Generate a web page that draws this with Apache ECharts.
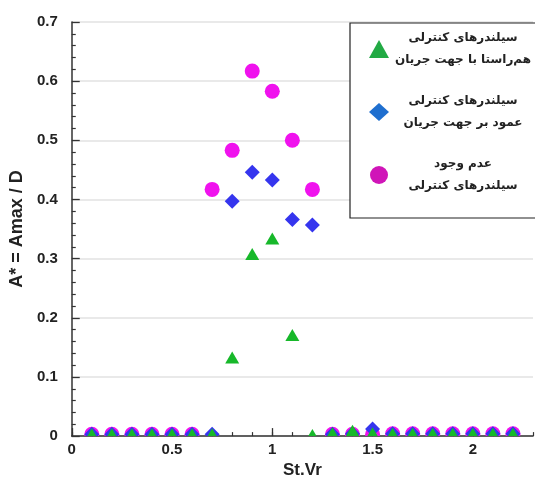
<!DOCTYPE html>
<html>
<head>
<meta charset="utf-8">
<script src="https://cdn.jsdelivr.net/npm/echarts@6/dist/echarts.min.js"></script>
<style>html,body{margin:0;padding:0;background:#fff;}#c{width:535px;height:484px;}</style>
</head>
<body>
<div id="c"></div>
<script>
// ---- data ----
const stVr = [0.1,0.2,0.3,0.4,0.5,0.6,0.7,0.8,0.9,1.0,1.1,1.2,1.3,1.4,1.5,1.6,1.7,1.8,1.9,2.0,2.1,2.2];
const parallelA = [0.003,0.003,0.003,0.003,0.003,0.003,0.003,0.133,0.308,0.334,0.171,0.002,0.005,0.009,0.005,0.004,0.004,0.004,0.004,0.004,0.004,0.004];
const perpendicularA = [0.003,0.003,0.003,0.003,0.003,0.003,0.003,0.397,0.446,0.433,0.366,0.357,0.003,0.004,0.012,0.004,0.004,0.004,0.004,0.004,0.004,0.004];
const noCylinderA = [0.003,0.003,0.003,0.003,0.003,0.003,0.417,0.483,0.617,0.583,0.500,0.417,0.003,0.003,0.003,0.004,0.004,0.004,0.004,0.004,0.004,0.004];
const xTicks = [0, 0.5, 1, 1.5, 2];
const namesParallel = ['سیلندرهای کنترلی', 'هم‌راستا با جهت جریان'];
const namesPerp = ['سیلندرهای کنترلی', 'عمود بر جهت جریان'];
const namesNone = ['عدم وجود', 'سیلندرهای کنترلی'];

const nParallel = namesParallel.join(' ');
const nPerp = namesPerp.join(' ');
const nNone = namesNone.join(' ');
const lines = {};
lines[nParallel] = namesParallel;
lines[nPerp] = namesPerp;
lines[nNone] = namesNone;

function pairs(ys){ return stVr.map((x,i)=>[x, ys[i]]); }

function markerRenderer(kind){
  return function(params, api){
    const p = api.coord([api.value(0), api.value(1)]);
    const color = api.visual('color');
    if (kind === 'circle') {
      return {type:'circle', shape:{cx:p[0], cy:p[1], r:7.5}, style:{fill:color}};
    }
    if (kind === 'diamond') {
      const h = 7.5;
      return {type:'polygon', shape:{points:[[p[0],p[1]-h],[p[0]+h,p[1]],[p[0],p[1]+h],[p[0]-h,p[1]]]}, style:{fill:color}};
    }
    return {type:'polygon', shape:{points:[[p[0],p[1]-6],[p[0]+7,p[1]+6],[p[0]-7,p[1]+6]]}, style:{fill:color}};
  };
}

const chart = echarts.init(document.getElementById('c'), null, {renderer:'canvas'});
const labelFont = {fontFamily:'Liberation Sans, Arial, sans-serif', fontSize:15, fontWeight:'bold', color:'#222'};
chart.setOption({
  animation:false,
  backgroundColor:'#fff',
  grid:{left:70, right:2, top:22, bottom:38, containLabel:false},
  legend:{
    left:350, top:23, orient:'vertical',
    backgroundColor:'#fff', borderColor:'#222', borderWidth:1.2,
    padding:[9, 30, 26, 19],
    itemGap:29, itemWidth:20, itemHeight:18,
    data:[
      {name:nParallel, icon:'triangle', itemStyle:{color:'#22aa44'}},
      {name:nPerp, icon:'diamond', itemStyle:{color:'#1f6fcf'}},
      {name:nNone, icon:'circle', itemStyle:{color:'#d015b8'}}
    ],
    formatter: n => lines[n].map(s => '{a|' + s + '}').join('\n'),
    textStyle:{
      rich:{a:{width:138, align:'center', lineHeight:22, fontSize:12, fontWeight:'bold', fontFamily:'DejaVu Sans', color:'#222'}}
    }
  },
  xAxis:[{
    type:'value', min:0, max:2.3, interval:0.5,
    name:'St.Vr', nameLocation:'middle', nameGap:22,
    nameTextStyle:{fontFamily:'Liberation Sans, Arial, sans-serif', fontSize:17, fontWeight:'bold', color:'#222'},
    axisLine:{show:true, onZero:false, lineStyle:{color:'#333', width:1.5}},
    axisTick:{show:true, inside:true, length:8, customValues:xTicks, lineStyle:{color:'#333', width:1.3}},
    axisLabel:Object.assign({margin:6, customValues:xTicks}, labelFont),
    splitLine:{show:false}
  },{
    type:'value', min:0, max:2.3, interval:0.1, position:'bottom',
    axisLine:{show:false},
    axisTick:{show:true, inside:true, length:4, lineStyle:{color:'#333', width:1.2}},
    axisLabel:{show:false},
    splitLine:{show:false}
  }],
  yAxis:{
    type:'value', min:0, max:0.7, interval:0.1,
    name:'A* = Amax / D', nameLocation:'middle', nameGap:38,
    nameTextStyle:{fontFamily:'Liberation Sans, Arial, sans-serif', fontSize:18, fontWeight:'bold', color:'#222'},
    axisLine:{show:true, lineStyle:{color:'#333', width:1.5}},
    axisTick:{show:true, inside:true, length:8, lineStyle:{color:'#333', width:1.3}},
    minorTick:{show:true, splitNumber:5, length:4, lineStyle:{color:'#333', width:1.2}},
    axisLabel:Object.assign({margin:14}, labelFont),
    splitLine:{show:true, lineStyle:{color:'#e2e2e2', width:1.5}}
  },
  series:[
    {name:nNone, type:'custom', xAxisIndex:0, clip:true, encode:{x:0, y:1},
     renderItem:markerRenderer('circle'), itemStyle:{color:'#f012ee'}, data:pairs(noCylinderA)},
    {name:nPerp, type:'custom', xAxisIndex:0, clip:true, encode:{x:0, y:1},
     renderItem:markerRenderer('diamond'), itemStyle:{color:'#3535ee'}, data:pairs(perpendicularA)},
    {name:nParallel, type:'custom', xAxisIndex:0, clip:true, encode:{x:0, y:1},
     renderItem:markerRenderer('triangle'), itemStyle:{color:'#17b82a'}, data:pairs(parallelA)}
  ]
});
</script>
</body>
</html>
